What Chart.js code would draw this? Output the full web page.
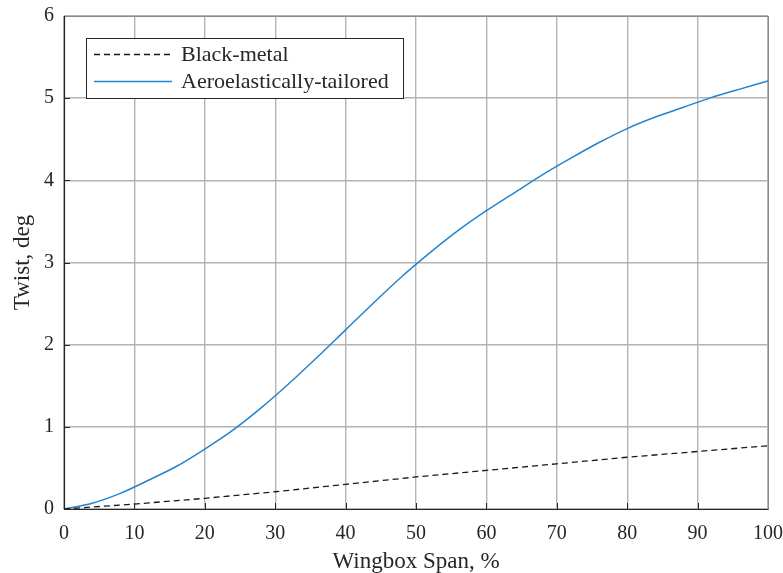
<!DOCTYPE html>
<html>
<head>
<meta charset="utf-8">
<script src="https://cdn.jsdelivr.net/npm/chart.js@4/dist/chart.umd.min.js"></script>
<style>
html,body{margin:0;padding:0;background:#fff;}
#wrap{width:783px;height:573px;position:relative;}
</style>
</head>
<body>
<div id="wrap"><canvas id="c" width="783" height="573"></canvas></div>
<script>
const spanBlack = [0, 10, 20, 30, 40, 50, 60, 70, 80, 90, 100];
const twistBlack = [0, 0.06, 0.13, 0.21, 0.30, 0.39, 0.47, 0.55, 0.63, 0.70, 0.77];
const spanTailored = [0, 4, 8, 12, 16, 20, 24, 28, 32, 36, 40, 44, 48, 52, 56, 60, 64, 68, 72, 76, 80, 84, 88, 92, 96, 100];
const twistTailored = [0, 0.07, 0.19, 0.35, 0.52, 0.73, 0.96, 1.23, 1.53, 1.85, 2.18, 2.51, 2.83, 3.12, 3.39, 3.63, 3.85, 4.07, 4.27, 4.46, 4.63, 4.77, 4.89, 5.01, 5.11, 5.21];
const xTicks = [0, 10, 20, 30, 40, 50, 60, 70, 80, 90, 100];
const yTicks = [0, 1, 2, 3, 4, 5, 6];
const seriesNames = ['Black-metal', 'Aeroelastically-tailored'];
const xTitle = 'Wingbox Span, %';
const yTitle = 'Twist, deg';

const FONT = '"Liberation Serif", "DejaVu Serif", serif';
const TXT = '#262626';

const boxPlugin = {
  id: 'boxPlugin',
  afterDraw(chart) {
    const ctx = chart.ctx, a = chart.chartArea;
    const xs = chart.scales.x, ys = chart.scales.y;
    ctx.save();
    ctx.strokeStyle = '#262626';
    ctx.lineWidth = 1;
    ctx.beginPath();
    xTicks.forEach(v => {
      const px = Math.round(xs.getPixelForValue(v)) + 0.5;
      ctx.moveTo(px, a.bottom); ctx.lineTo(px, a.bottom - 6);
    });
    yTicks.forEach(v => {
      const py = Math.round(ys.getPixelForValue(v)) + 0.5;
      ctx.moveTo(a.left, py); ctx.lineTo(a.left + 6, py);
    });
    ctx.stroke();
    ctx.strokeStyle = '#8a8a8a';
    ctx.beginPath();
    ctx.rect(Math.round(a.left) + 0.5, Math.round(a.top) + 0.5, Math.round(a.right - a.left), Math.round(a.bottom - a.top));
    ctx.stroke();
    ctx.strokeStyle = '#262626';
    ctx.lineWidth = 1.2;
    ctx.beginPath();
    ctx.moveTo(Math.round(a.left) + 0.5, Math.round(a.top));
    ctx.lineTo(Math.round(a.left) + 0.5, Math.round(a.bottom) + 0.5);
    ctx.lineTo(Math.round(a.right) + 0.5, Math.round(a.bottom) + 0.5);
    ctx.stroke();

    // legend
    const lx = 86.5, ly = 38.5, lw = 317, lh = 60;
    ctx.fillStyle = '#fff';
    ctx.fillRect(lx, ly, lw, lh);
    ctx.strokeStyle = '#262626';
    ctx.lineWidth = 1;
    ctx.strokeRect(lx, ly, lw, lh);
    const ds = chart.data.datasets;
    const rows = [54.5, 81.5];
    ds.forEach((d, i) => {
      ctx.save();
      ctx.strokeStyle = d.borderColor;
      ctx.lineWidth = d.borderWidth;
      ctx.setLineDash(d.borderDash || []);
      ctx.beginPath();
      ctx.moveTo(94, rows[i]); ctx.lineTo(172, rows[i]);
      ctx.stroke();
      ctx.restore();
      ctx.fillStyle = TXT;
      ctx.font = '22px ' + FONT;
      ctx.textBaseline = 'middle';
      ctx.textAlign = 'left';
      ctx.fillText(d.label, 181, rows[i] + 1);
    });
    ctx.restore();
  }
};

new Chart(document.getElementById('c'), {
  type: 'scatter',
  data: {
    datasets: [
      {
        label: seriesNames[0],
        data: spanBlack.map((x, i) => ({x, y: twistBlack[i]})),
        showLine: true,
        borderColor: '#1a1a1a',
        borderWidth: 1.3,
        borderDash: [6, 4],
        pointRadius: 0,
        fill: false,
        tension: 0
      },
      {
        label: seriesNames[1],
        data: spanTailored.map((x, i) => ({x, y: twistTailored[i]})),
        showLine: true,
        borderColor: '#2284cf',
        borderWidth: 1.5,
        pointRadius: 0,
        fill: false,
        cubicInterpolationMode: 'monotone'
      }
    ]
  },
  options: {
    responsive: false,
    animation: false,
    layout: { padding: { left: 0, right: 15, top: 16, bottom: 0 } },
    plugins: { legend: { display: false }, tooltip: { enabled: false } },
    scales: {
      x: {
        type: 'linear', min: 0, max: 100,
        afterFit(s) { s.height = 64; s.paddingLeft = 0; s.paddingRight = 0; },
        afterBuildTicks(s) { s.ticks = xTicks.map(v => ({value: v})); },
        grid: { color: '#b4b4b4', lineWidth: 1.4, drawTicks: false },
        border: { display: false },
        ticks: { color: TXT, font: { family: FONT, size: 20 }, padding: 13, maxRotation: 0 },
        title: { display: true, text: xTitle, color: TXT, font: { family: FONT, size: 23, lineHeight: 1 }, padding: { top: 2, bottom: 0 } }
      },
      y: {
        type: 'linear', min: 0, max: 6,
        afterFit(s) { s.width = 64; s.paddingTop = 0; s.paddingBottom = 0; },
        afterBuildTicks(s) { s.ticks = yTicks.map(v => ({value: v})); },
        grid: { color: '#b4b4b4', lineWidth: 1.4, drawTicks: false },
        border: { display: false },
        ticks: { color: TXT, font: { family: FONT, size: 20 }, padding: 10 },
        title: { display: true, text: yTitle, color: TXT, font: { family: FONT, size: 23, lineHeight: 1 }, padding: { top: 11, bottom: 0 } }
      }
    }
  },
  plugins: [boxPlugin]
});
</script>
</body>
</html>
